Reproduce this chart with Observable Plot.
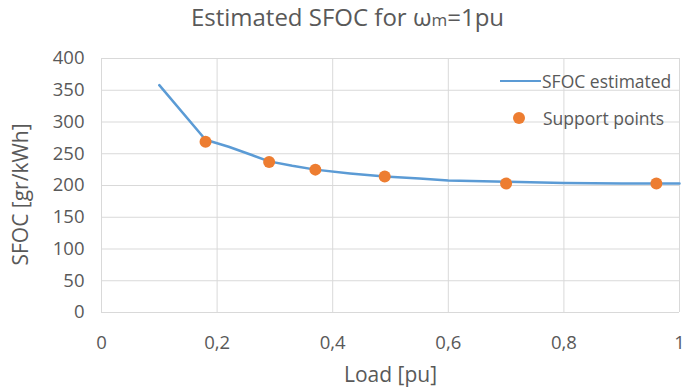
<!DOCTYPE html>
<html>
<head>
<meta charset="utf-8">
<script src="https://cdn.jsdelivr.net/npm/d3@7"></script>
<script src="https://cdn.jsdelivr.net/npm/@observablehq/plot@0.6"></script>
<style>
  body { margin: 0; background: #fff; font-family: "Open Sans", Lato, sans-serif; }
  #wrap { position: relative; width: 685px; height: 390px; }
  #title { position: absolute; left: 0; top: 0; width: 685px; text-align: center;
           font-size: 24px; color: #595959; line-height: normal; padding-left: 10px; box-sizing: border-box; }
  #title .sub { font-size: 17px; }
  #chart { position: absolute; left: 0; top: 45px; }
  .legend { position: absolute; font-size: 17.5px; color: #595959; line-height: 24px; }
</style>
</head>
<body>
<div id="wrap">
  <div id="title">Estimated SFOC for ω<span class="sub">m</span>=1pu</div>
  <div id="chart"></div>
  <div class="legend" style="left:500px; top:69px; display:flex; align-items:center;">
    <span style="display:inline-block;width:41px;height:0;border-top:2.5px solid #5b9bd5;margin-right:1px;"></span>SFOC estimated
  </div>
  <div class="legend" style="left:513px; top:106px; display:flex; align-items:center;">
    <span style="display:inline-block;width:12px;height:12px;border-radius:6px;background:#ed7d31;margin-right:18px;"></span>Support points
  </div>
</div>
<script>
// Estimated SFOC curve
const curveLoad = [0.10, 0.18, 0.22, 0.26, 0.29, 0.33, 0.37, 0.43, 0.49, 0.55, 0.60, 0.70, 0.80, 0.90, 1.00];
const curveSfoc = [358, 272, 261, 248, 238, 231, 225, 219, 214, 211, 208, 206, 204, 203, 203];
// Support points
const pointLoad = [0.18, 0.29, 0.37, 0.49, 0.70, 0.96];
const pointSfoc = [269, 237, 225, 214, 203, 203];
// Ticks
const xTicks = [0, 0.2, 0.4, 0.6, 0.8, 1];
const yTicks = [0, 50, 100, 150, 200, 250, 300, 350, 400];

const curve = curveLoad.map((x, i) => ({x, y: curveSfoc[i]}));
const pts = pointLoad.map((x, i) => ({x, y: pointSfoc[i]}));
const fmt = v => String(v).replace(".", ",");

const chart = Plot.plot({
  width: 685,
  height: 345,
  marginLeft: 101,
  marginRight: 6,
  marginTop: 13,
  marginBottom: 78,
  style: {fontFamily: "'Open Sans', Lato, sans-serif", color: "#595959", background: "#fff"},
  x: {domain: [0, 1]},
  y: {domain: [0, 400]},
  marks: [
    Plot.gridY(yTicks, {stroke: "#d9d9d9", strokeOpacity: 1, strokeWidth: 1}),
    Plot.gridX(xTicks, {stroke: "#d9d9d9", strokeOpacity: 1, strokeWidth: 1}),
    Plot.axisY(yTicks, {tickSize: 0, tickPadding: 17, fontSize: 18.5, fill: "#595959",
      label: "SFOC [gr/kWh]", labelAnchor: "center", labelArrow: "none", labelOffset: 88}),
    Plot.axisX(xTicks, {tickSize: 0, tickPadding: 23, fontSize: 18.5, fill: "#595959", tickFormat: fmt,
      label: "Load [pu]", labelAnchor: "center", labelArrow: "none", labelOffset: 69}),
    Plot.line(curve, {x: "x", y: "y", stroke: "#5b9bd5", strokeWidth: 2.5}),
    Plot.dot(pts, {x: "x", y: "y", r: 6, fill: "#ed7d31", stroke: "none"})
  ]
});
chart.querySelectorAll("g[aria-label='y-axis label'] text, g[aria-label='x-axis label'] text").forEach(t => {
  t.style.fontSize = "21px";
});
chart.querySelectorAll("g[aria-label='y-axis label'] text").forEach(t => {
  t.setAttribute("dx", "-9");
});
document.getElementById("chart").appendChild(chart);
</script>
</body>
</html>
